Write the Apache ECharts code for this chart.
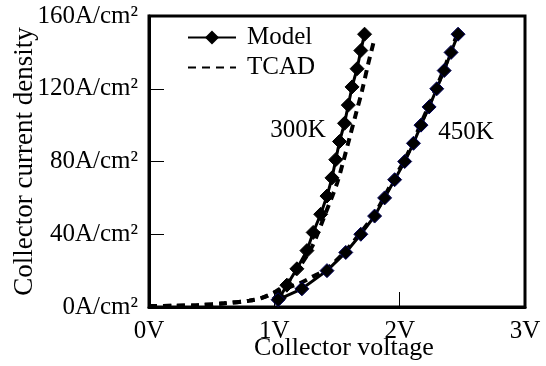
<!DOCTYPE html>
<html>
<head>
<meta charset="utf-8">
<script src="https://cdn.jsdelivr.net/npm/echarts@6/dist/echarts.min.js"></script>
<style>
  html, body { margin: 0; padding: 0; background: #fff; }
  #main { width: 546px; height: 366px; }
</style>
</head>
<body>
<div id="main"></div>
<script>
// voltage (V) and current density (A/cm2)
const model300V = [1.04, 1.10, 1.18, 1.26, 1.31, 1.37, 1.42, 1.46, 1.49, 1.52, 1.56, 1.59, 1.62, 1.66, 1.69, 1.72];
const model300J = [5, 12, 21, 31, 41, 51, 61, 71, 81, 91, 101, 111, 121, 131, 141, 150];

const model450V = [1.03, 1.22, 1.42, 1.57, 1.69, 1.80, 1.88, 1.96, 2.04, 2.11, 2.17, 2.235, 2.296, 2.355, 2.41, 2.466];
const model450J = [4, 10, 20, 30, 40, 50, 60, 70, 80, 90, 100, 110, 120, 130, 140, 150];

const tcad300V = [0, 0.2, 0.4, 0.6, 0.8, 0.9, 1.0, 1.1, 1.2, 1.3, 1.4, 1.5, 1.55, 1.6, 1.65, 1.7, 1.75, 1.79];
const tcad300J = [0.5, 0.7, 1.0, 2, 3.5, 5, 8, 13, 22, 33, 50, 68, 80, 93, 106, 119, 134, 145];

const tcad450V = [0, 0.2, 0.4, 0.6, 0.8, 0.9, 1.0, 1.1, 1.2, 1.3, 1.42, 1.57, 1.69, 1.80, 1.88, 1.96, 2.04, 2.11, 2.17, 2.235, 2.296, 2.355, 2.41, 2.46];
const tcad450J = [0.5, 0.7, 1.0, 2, 3.5, 5, 8, 10.5, 13, 16.5, 21, 31, 41, 51, 61, 71, 81, 91, 101, 111, 121, 131, 141, 150];

const xTicks = [0, 1, 2, 3];
const yTicks = [0, 40, 80, 120, 160];

function zip(xs, ys) {
  return xs.map(function (x, i) { return [x, ys[i]]; });
}

const serif = '"Liberation Serif", "Times New Roman", serif';

var myChart = echarts.init(document.getElementById('main'));

var modelStyle = function (data, border) {
  return {
    name: 'Model',
    type: 'line',
    data: data,
    z: 3,
    symbol: 'diamond',
    symbolSize: 14,
    lineStyle: { color: '#000', width: 3 },
    itemStyle: { color: '#000', borderColor: border, borderWidth: 1 }
  };
};

var tcadStyle = function (data) {
  return {
    name: 'TCAD',
    type: 'line',
    data: data,
    z: 2,
    smooth: 0.3,
    symbol: 'none',
    lineStyle: { color: '#000', width: 4, type: [8, 6] },
    itemStyle: { color: '#000' }
  };
};

var option = {
  animation: false,
  grid: {
    left: 149, right: 21, top: 16, bottom: 59,
    outerBoundsMode: 'none',
    containLabel: false,
    show: true, borderColor: '#000', borderWidth: 3
  },
  legend: {
    data: [
      { name: 'Model' },
      { name: 'TCAD', itemStyle: { opacity: 0 } }
    ],
    orient: 'vertical',
    left: 182, top: 20,
    itemWidth: 48, itemHeight: 14, itemGap: 5,
    textStyle: { fontFamily: serif, fontSize: 25, color: '#000', padding: [0, 0, 0, 6] }
  },
  xAxis: {
    type: 'value',
    min: xTicks[0], max: xTicks[xTicks.length - 1], interval: 1,
    name: 'Collector voltage',
    nameLocation: 'middle',
    nameGap: 28,
    nameMoveOverlap: false,
    nameTextStyle: { fontFamily: serif, fontSize: 26, color: '#000', padding: [0, 0, 0, 14] },
    axisLine: { lineStyle: { color: '#000', width: 3 } },
    axisTick: { inside: true, length: 15, lineStyle: { color: '#000', width: 1 } },
    axisLabel: { formatter: '{value}V', fontFamily: serif, fontSize: 25, color: '#000', margin: 12 },
    splitLine: { show: false }
  },
  yAxis: {
    type: 'value',
    min: yTicks[0], max: yTicks[yTicks.length - 1], interval: 40,
    name: 'Collector current density',
    nameLocation: 'middle',
    nameGap: 111,
    nameMoveOverlap: false,
    nameTextStyle: { fontFamily: serif, fontSize: 27, color: '#000' },
    axisLine: { lineStyle: { color: '#000', width: 3 } },
    axisTick: { inside: true, length: 15, lineStyle: { color: '#000', width: 1 } },
    axisLabel: { formatter: '{value}A/cm²', fontFamily: serif, fontSize: 25, color: '#000', margin: 11 },
    splitLine: { show: false }
  },
  series: [
    tcadStyle(zip(tcad300V, tcad300J)),
    tcadStyle(zip(tcad450V, tcad450J)),
    modelStyle(zip(model300V, model300J), '#000'),
    modelStyle(zip(model450V, model450J), '#00005a')
  ]
};

myChart.setOption(option);

// temperature labels placed in data coordinates
var p300 = myChart.convertToPixel({ gridIndex: 0 }, [1.19, 97]);
var p450 = myChart.convertToPixel({ gridIndex: 0 }, [2.53, 96]);
myChart.setOption({
  graphic: [
    { type: 'text', x: p300[0], y: p300[1], style: { text: '300K', fontFamily: serif, fontSize: 25, fill: '#000', align: 'center', verticalAlign: 'middle' } },
    { type: 'text', x: p450[0], y: p450[1], style: { text: '450K', fontFamily: serif, fontSize: 25, fill: '#000', align: 'center', verticalAlign: 'middle' } }
  ]
});
</script>
</body>
</html>
